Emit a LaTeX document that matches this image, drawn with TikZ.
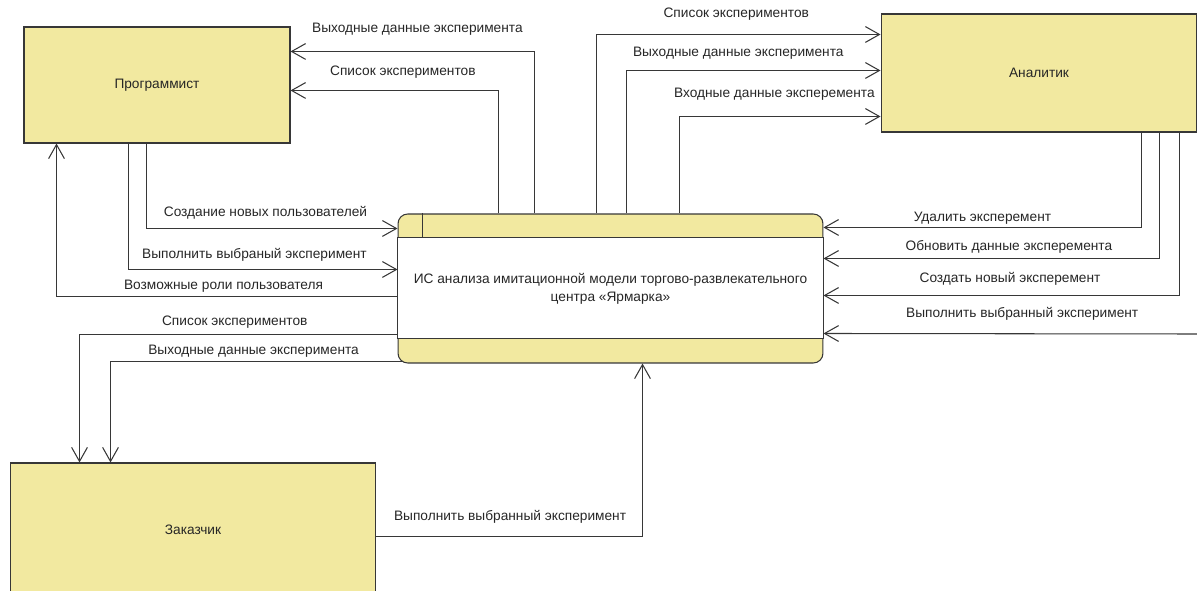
\documentclass[tikz,border=0pt]{standalone}
\usepackage{fontspec}
\setmainfont{Liberation Sans}
\usetikzlibrary{arrows.meta,calc}
\definecolor{actfill}{RGB}{242,233,160}
\definecolor{wirec}{RGB}{55,55,55}

\begin{document}
\begin{tikzpicture}[x=0.02cm,y=-0.02cm,
                        actor/.style={draw=wirec,fill=actfill,line width=0.6pt,inner sep=0pt,font=\fontsize{7.8}{10}\selectfont,text=black!85},
                        procbox/.style={draw=wirec,fill=actfill,line width=0.6pt,rounded corners=5.5pt,minimum width=8.5cm,minimum height=2.98cm},
                        flow/.style={draw=wirec,line width=0.6pt,-{Straight Barb[length=8pt,width=9pt]}},
                        lbl/.style={font=\fontsize{7.8}{10.2}\selectfont,text=black!85,inner sep=0pt}]
                        \useasboundingbox (0,0) rectangle (1197,591);
                        \node[actor,minimum width=5.32cm,minimum height=2.32cm] (prog) at (157,85) {Программист};
                        \node[actor,minimum width=6.32cm,minimum height=2.36cm] (anal) at (1039,73) {Аналитик};
                        \node[actor,minimum width=7.32cm,minimum height=2.68cm] (cust) at (193,530) {Заказчик};
                        \node[procbox] (proc) at (610.5,288.5) {};
                        \draw[draw=wirec,fill=white,line width=0.6pt] ($(proc.north west)+(0,24)$) rectangle ($(proc.south east)+(0,-25)$);
                        \draw[draw=wirec,line width=0.6pt] ($(proc.north west)+(25,0)$) -- ($(proc.north west)+(25,24)$);
                        \node[lbl,align=center] (proctext) at (proc.center) {ИС анализа имитационной модели торгово-развлекательного\\центра «Ярмарка»};
                        \coordinate (rim) at (1197,334);
                        \draw[flow] ($(proc.north west)+(137,0)$) |- ($(prog.north east)+(0,25)$) node[lbl,pos=0.74,yshift=0.44cm] {Выходные данные эксперимента};
                        \draw[flow] ($(proc.north west)+(101,0)$) |- ($(prog.north east)+(0,64)$) node[lbl,pos=0.73,yshift=0.36cm] {Список экспериментов};
                        \draw[flow] ($(prog.south west)+(123,0)$) |- ($(proc.north west)+(0,15)$) node[lbl,pos=0.737,yshift=0.32cm] {Создание новых пользователей};
                        \draw[flow] ($(prog.south west)+(105,0)$) |- ($(proc.north west)+(0,56)$) node[lbl,pos=0.734,yshift=0.3cm] {Выполнить выбраный эксперимент};
                        \draw[flow] ($(proc.north west)+(0,83)$) -| ($(prog.south west)+(33,0)$) node[lbl,pos=0.255,yshift=0.2cm] {Возможные роли пользователя};
                        \draw[flow] ($(proc.north west)+(0,121)$) -| ($(cust.north west)+(70,0)$) node[lbl,pos=0.256,yshift=0.24cm] {Список экспериментов};
                        \draw[flow] ($(proc.south west)+(5,-2)$) -| ($(cust.north west)+(101,0)$) node[lbl,pos=0.255,yshift=0.2cm] {Выходные данные эксперимента};
                        \draw[flow] ($(cust.north east)+(0,74)$) -| ($(proc.south west)+(245,0)$) node[lbl,pos=0.251,yshift=0.4cm] {Выполнить выбранный эксперимент};
                        \draw[flow] ($(proc.north west)+(199,0)$) |- ($(anal.north west)+(0,21)$) node[lbl,pos=0.746,yshift=0.4cm] {Список экспериментов};
                        \draw[flow] ($(proc.north west)+(229,0)$) |- ($(anal.north west)+(0,57)$) node[lbl,pos=0.72,yshift=0.34cm] {Выходные данные эксперимента};
                        \draw[flow] ($(proc.north west)+(282,0)$) |- ($(anal.north west)+(0,103)$) node[lbl,pos=0.736,yshift=0.44cm] {Входные данные эксперемента};
                        \draw[flow] ($(anal.south west)+(261,0)$) |- ($(proc.north east)+(0,14)$) node[lbl,pos=0.75,yshift=0.18cm] {Удалить эксперемент};
                        \draw[flow] ($(anal.south west)+(279,0)$) |- ($(proc.north east)+(0,45)$) node[lbl,pos=0.724,yshift=0.24cm] {Обновить данные эксперемента};
                        \draw[flow] ($(anal.south west)+(299,0)$) |- ($(proc.north east)+(0,82)$) node[lbl,pos=0.738,yshift=0.34cm] {Создать новый эксперемент};
                        \draw[flow] (rim) -- ($(proc.north east)+(0,120)$) node[lbl,pos=0.468,yshift=0.4cm] {Выполнить выбранный эксперимент};
                    \end{tikzpicture}
\end{document}
